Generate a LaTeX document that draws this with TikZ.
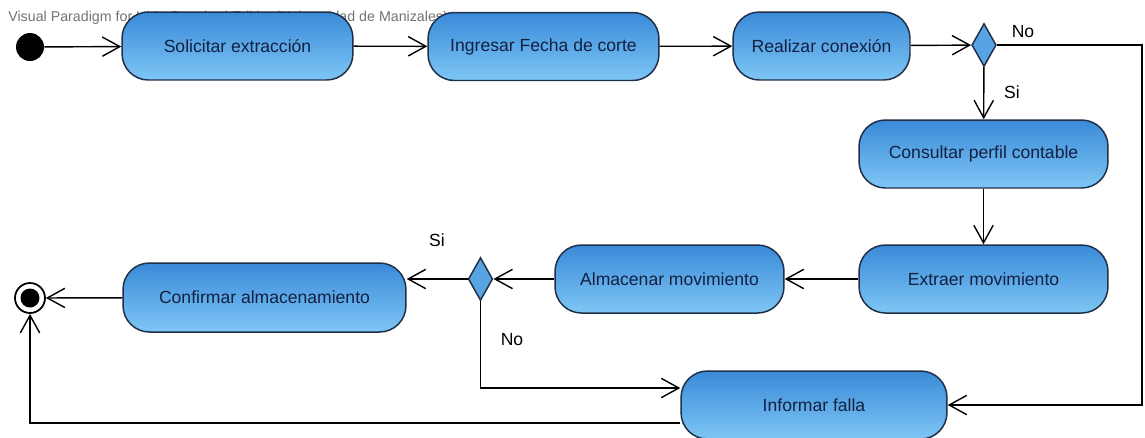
\documentclass[tikz,border=0pt]{standalone}
\usepackage{fontspec}
\setmainfont{Liberation Sans}
\usetikzlibrary{shapes.geometric,arrows.meta}

\definecolor{actTop}{RGB}{58,138,216}
\definecolor{actBottom}{RGB}{126,198,245}
\definecolor{actBorder}{RGB}{32,48,72}
\definecolor{actText}{RGB}{18,32,66}
\definecolor{decFill}{RGB}{88,164,226}

\tikzset{
  act/.style={draw=actBorder, line width=0.85pt, rounded corners=15pt,
    top color=actTop, bottom color=actBottom, text=actText,
    font=\fontsize{10}{12}\selectfont, inner sep=0pt, minimum height=1.36cm},
  dec/.style={diamond, draw=actBorder, line width=0.85pt, fill=decFill,
    inner sep=0pt, minimum width=0.49cm, minimum height=0.86cm},
  flow/.style={-{Straight Barb[length=10pt,width=11pt]}, line width=0.8pt},
  guard/.style={font=\fontsize{10}{12}\selectfont, inner sep=0pt}
}

\begin{document}
\begin{tikzpicture}[x=0.02cm,y=-0.02cm]
\fill[white] (0,0) rectangle (1145,437);
\useasboundingbox (0,0) rectangle (1145,437);

\node[anchor=west, text=black!55, font=\fontsize{8.1}{9}\selectfont, inner sep=0pt] (marca) at (8,18)
  {Visual Paradigm for UML Standard Edition(Universidad de Manizales)};

\node[circle, fill=black, minimum size=0.56cm, inner sep=0pt] (inicio) at (30,47) {};
\node[circle, draw=black, line width=1pt, fill=white, minimum size=0.6cm, inner sep=0pt,
  path picture={\fill[black] (path picture bounding box.center) circle (0.19cm);}] (fin) at (30,298) {};

\node[act, minimum width=4.62cm] (solicitar) at (237.5,46) {Solicitar extracción};
\node[act, minimum width=4.62cm] (ingresar) at (543.5,46.5) {Ingresar Fecha de corte};
\node[act, minimum width=3.54cm] (realizar) at (821.5,46) {Realizar conexión};
\node[dec] (dec1) at (984,45) {};
\node[act, minimum width=4.98cm] (consultar) at (983.5,154) {Consultar perfil contable};
\node[act, minimum width=4.98cm] (extraer) at (983.5,279) {Extraer movimiento};
\node[act, minimum width=4.58cm] (almacenar) at (669.5,279) {Almacenar movimiento};
\node[dec] (dec2) at (480.5,279) {};
\node[act, minimum width=5.66cm, minimum height=1.38cm] (confirmar) at (264.5,297.5) {Confirmar almacenamiento};
\node[act, minimum width=5.32cm] (informar) at (814,405) {Informar falla};

\coordinate (vueltaNo) at (1142,45);

\draw[flow] (inicio) -- (solicitar);
\draw[flow] (solicitar) -- (ingresar);
\draw[flow] (ingresar) -- (realizar);
\draw[flow] (realizar) -- (dec1);
\draw[flow] (dec1) -- (consultar);
\draw[flow] (dec1.east) -- (vueltaNo) |- (informar.east);
\draw[flow] (consultar) -- (extraer);
\draw[flow] (extraer) -- (almacenar);
\draw[flow] (almacenar) -- (dec2);
\draw[flow] (dec2.west) -- (dec2.west -| confirmar.east);
\draw[flow] (dec2.south) |- ([yshift=0.34cm]informar.west);
\draw[flow] ([yshift=-0.36cm]informar.west) -| (fin.south);
\draw[flow] (confirmar) -- (fin);

\node[guard] (noA) at (1023,32) {No};
\node[guard] (siA) at (1012,92) {Si};
\node[guard] (siB) at (437,240) {Si};
\node[guard] (noB) at (512,340) {No};
\end{tikzpicture}
\end{document}
